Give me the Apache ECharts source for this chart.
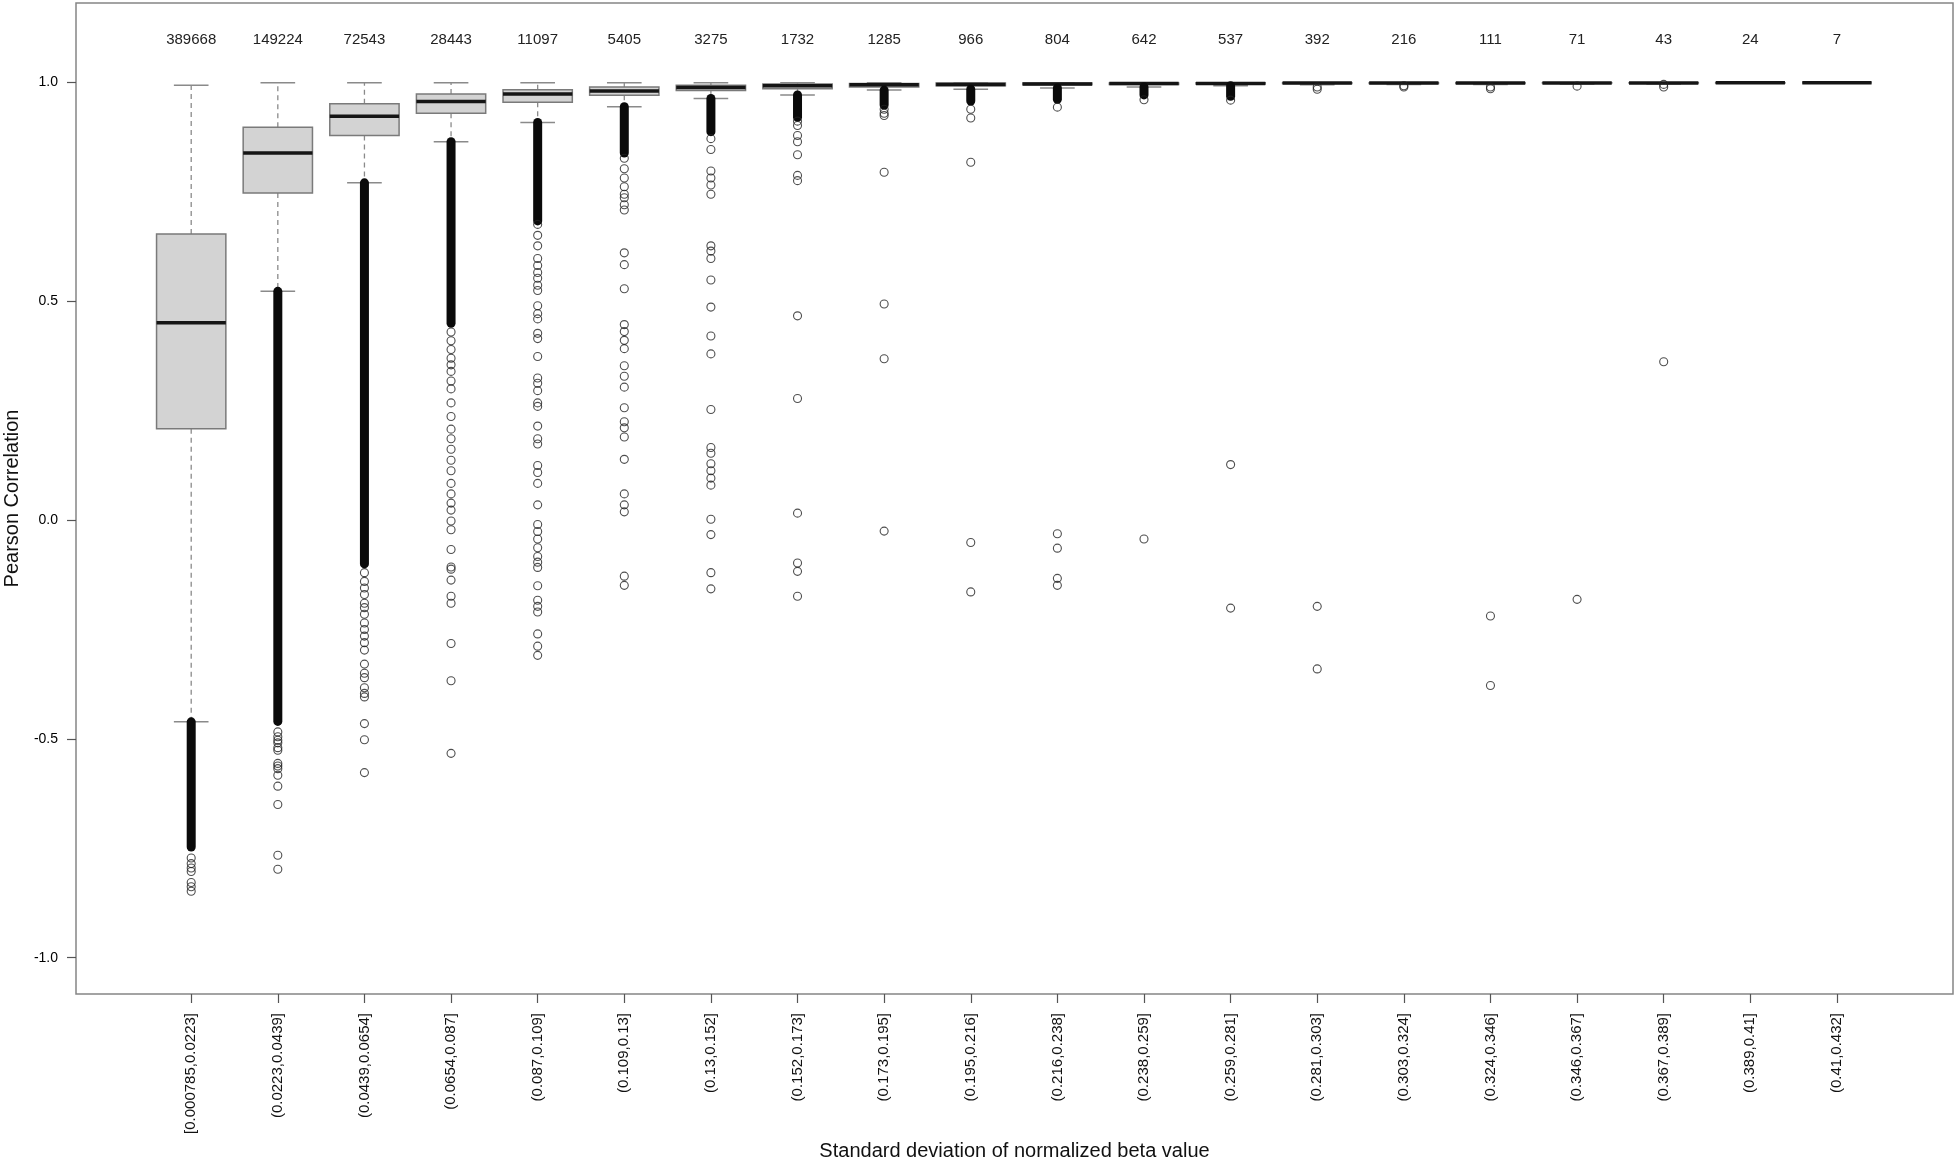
<!DOCTYPE html>
<html>
<head>
<meta charset="utf-8">
<title>Pearson Correlation by SD bin</title>
<script src="https://cdn.jsdelivr.net/npm/echarts@6/dist/echarts.min.js"></script>
<style>
html, body { margin: 0; padding: 0; background: #fff; }
#chart { width: 1960px; height: 1158px; }
</style>
</head>
<body>
<div id="chart"></div>
<script>
// bins of standard deviation
var categories = ['[0.000785,0.0223]', '(0.0223,0.0439]', '(0.0439,0.0654]', '(0.0654,0.087]', '(0.087,0.109]',
	'(0.109,0.13]', '(0.13,0.152]', '(0.152,0.173]', '(0.173,0.195]', '(0.195,0.216]',
	'(0.216,0.238]', '(0.238,0.259]', '(0.259,0.281]', '(0.281,0.303]', '(0.303,0.324]',
	'(0.324,0.346]', '(0.346,0.367]', '(0.367,0.389]', '(0.389,0.41]', '(0.41,0.432]'];
var counts = [389668, 149224, 72543, 28443, 11097, 5405, 3275, 1732, 1285, 966, 804, 642, 537, 392, 216, 111, 71, 43, 24, 7];

var whiskerLow    = [-0.461, 0.523, 0.771, 0.865, 0.909, 0.945, 0.964, 0.972, 0.983, 0.985, 0.988, 0.990, 0.993, 0.995, 0.996, 0.996, 0.997, 0.997, 0.999, 0.999];
var lowerQuartile = [0.209, 0.748, 0.879, 0.930, 0.955, 0.971, 0.982, 0.986, 0.990, 0.993, 0.995, 0.996, 0.997, 0.998, 0.998, 0.998, 0.999, 0.999, 0.999, 1.0];
var medians       = [0.451, 0.839, 0.923, 0.957, 0.974, 0.981, 0.989, 0.993, 0.995, 0.996, 0.997, 0.998, 0.998, 0.999, 0.999, 0.999, 0.999, 0.999, 1.0, 1.0];
var upperQuartile = [0.654, 0.898, 0.952, 0.974, 0.984, 0.990, 0.994, 0.997, 0.998, 0.999, 0.999, 0.999, 1.0, 1.0, 1.0, 1.0, 1.0, 1.0, 1.0, 1.0];
var whiskerHigh   = [0.994, 1.0, 1.0, 1.0, 1.0, 1.0, 1.0, 1.0, 1.0, 1.0, 1.0, 1.0, 1.0, 1.0, 1.0, 1.0, 1.0, 1.0, 1.0, 1.0];

// runs of outliers so packed that they print as a solid bar
var denseTop    = [-0.461, 0.523, 0.771, 0.865, 0.909, 0.945, 0.964, 0.972, 0.983, 0.985, 0.988, 0.990, 0.993, null, null, null, null, null, null, null];
var denseBottom = [-0.747, -0.460, -0.100, 0.450, 0.684, 0.839, 0.888, 0.921, 0.949, 0.958, 0.962, 0.972, 0.969, null, null, null, null, null, null, null];

// single outliers readable as separate circles
var outliers = [
	[-0.772, -0.785, -0.795, -0.803, -0.828, -0.838, -0.848],
	[-0.484, -0.495, -0.503, -0.509, -0.52, -0.526, -0.556, -0.562, -0.568, -0.583, -0.608, -0.650, -0.766, -0.798],
	[-0.12, -0.14, -0.155, -0.17, -0.19, -0.2, -0.215, -0.235, -0.25, -0.265, -0.28, -0.297, -0.329, -0.350, -0.360, -0.383, -0.396, -0.404, -0.465, -0.502, -0.577],
	[0.43, 0.41, 0.39, 0.37, 0.355, 0.34, 0.318, 0.300, 0.268, 0.237, 0.208, 0.186, 0.162, 0.137, 0.113, 0.084, 0.060, 0.039, 0.023, -0.002, -0.022, -0.067, -0.107, -0.112, -0.137, -0.174, -0.19, -0.282, -0.367, -0.533],
	[0.676, 0.651, 0.627, 0.598, 0.582, 0.566, 0.553, 0.537, 0.525, 0.490, 0.472, 0.460, 0.427, 0.415, 0.374, 0.325, 0.313, 0.296, 0.268, 0.260, 0.215, 0.186, 0.174, 0.125, 0.109, 0.084, 0.035, -0.010, -0.026, -0.043, -0.063, -0.083, -0.096, -0.108, -0.150, -0.183, -0.197, -0.210, -0.260, -0.288, -0.309],
	[0.827, 0.803, 0.782, 0.762, 0.745, 0.737, 0.721, 0.709, 0.611, 0.584, 0.529, 0.447, 0.431, 0.411, 0.392, 0.353, 0.329, 0.304, 0.257, 0.225, 0.211, 0.190, 0.139, 0.060, 0.035, 0.019, -0.128, -0.149],
	[0.872, 0.847, 0.798, 0.782, 0.766, 0.745, 0.627, 0.615, 0.598, 0.549, 0.487, 0.421, 0.380, 0.253, 0.166, 0.153, 0.129, 0.113, 0.096, 0.080, 0.002, -0.033, -0.120, -0.157],
	[0.912, 0.902, 0.879, 0.865, 0.835, 0.788, 0.776, 0.467, 0.278, 0.016, -0.098, -0.117, -0.174],
	[0.939, 0.930, 0.925, 0.795, 0.494, 0.369, -0.025],
	[0.939, 0.919, 0.818, -0.051, -0.164],
	[0.944, -0.031, -0.064, -0.133, -0.149],
	[0.961, -0.043],
	[0.960, 0.127, -0.201],
	[0.990, 0.985, -0.197, -0.340],
	[0.993, 0.990],
	[0.990, 0.986, -0.219, -0.378],
	[0.992, -0.181],
	[0.996, 0.990, 0.362],
	[],
	[]
];

var countLabelY = 1.097;

var boxData = [];
var denseData = [];
var pointData = [];
var countData = [];
categories.forEach(function (c, i) {
	boxData.push([i + 1, whiskerLow[i], lowerQuartile[i], medians[i], upperQuartile[i], whiskerHigh[i]]);
	if (denseTop[i] !== null) {
		denseData.push([i + 1, denseTop[i], denseBottom[i]]);
	}
	outliers[i].forEach(function (v) {
		pointData.push([i + 1, v]);
	});
	countData.push([i + 1, countLabelY, counts[i]]);
});

var tickValues = categories.map(function (c, i) { return i + 1; });
var font = "'Liberation Sans', Arial, sans-serif";

function renderBox(params, api) {
	var x = api.value(0);
	var low = api.coord([x, api.value(1)]);
	var q1 = api.coord([x, api.value(2)]);
	var med = api.coord([x, api.value(3)]);
	var q3 = api.coord([x, api.value(4)]);
	var high = api.coord([x, api.value(5)]);
	var half = api.size([0.8, 0])[0] / 2;
	var cap = api.size([0.4, 0])[0] / 2;
	var grey = '#8a8a8a';
	return {
		type: 'group',
		children: [
			{type: 'line', shape: {x1: q3[0], y1: q3[1], x2: high[0], y2: high[1]},
				style: {stroke: grey, lineWidth: 1.3, lineDash: [5, 4]}},
			{type: 'line', shape: {x1: q1[0], y1: q1[1], x2: low[0], y2: low[1]},
				style: {stroke: grey, lineWidth: 1.3, lineDash: [5, 4]}},
			{type: 'line', shape: {x1: high[0] - cap, y1: high[1], x2: high[0] + cap, y2: high[1]},
				style: {stroke: grey, lineWidth: 1.5}},
			{type: 'line', shape: {x1: low[0] - cap, y1: low[1], x2: low[0] + cap, y2: low[1]},
				style: {stroke: grey, lineWidth: 1.5}},
			{type: 'rect', shape: {x: q3[0] - half, y: q3[1], width: half * 2, height: q1[1] - q3[1]},
				style: {fill: '#d3d3d3', stroke: '#7a7a7a', lineWidth: 1.5}},
			{type: 'line', shape: {x1: med[0] - half, y1: med[1], x2: med[0] + half, y2: med[1]},
				style: {stroke: '#151515', lineWidth: 3.5}}
		]
	};
}

function renderDense(params, api) {
	var x = api.value(0);
	var top = api.coord([x, api.value(1)]);
	var bottom = api.coord([x, api.value(2)]);
	return {
		type: 'line',
		shape: {x1: top[0], y1: top[1], x2: bottom[0], y2: bottom[1]},
		style: {stroke: '#0a0a0a', lineWidth: 9, lineCap: 'round'}
	};
}

function renderCount(params, api) {
	var p = api.coord([api.value(0), api.value(1)]);
	return {
		type: 'text',
		x: p[0],
		y: p[1],
		style: {
			text: String(api.value(2)),
			fill: '#222',
			font: '15px ' + font,
			align: 'center',
			verticalAlign: 'middle'
		}
	};
}

var myChart = echarts.init(document.getElementById('chart'));
var option = {
	animation: false,
	backgroundColor: '#fff',
	grid: {
		left: 76,
		right: 7,
		top: 3,
		bottom: 164,
		show: true,
		borderColor: '#858585',
		borderWidth: 1.5,
		containLabel: false,
		outerBoundsMode: 'none'
	},
	xAxis: {
		type: 'value',
		min: -0.33,
		max: 21.34,
		name: 'Standard deviation of normalized beta value',
		nameLocation: 'middle',
		nameGap: 139,
		nameTextStyle: {fontSize: 20, color: '#111', fontFamily: font},
		axisLine: {show: false, onZero: false},
		splitLine: {show: false},
		axisTick: {show: true, length: 9, customValues: tickValues, lineStyle: {color: '#555', width: 1.2}},
		axisLabel: {
			customValues: tickValues,
			rotate: 90,
			margin: 19,
			fontSize: 15,
			color: '#111',
			fontFamily: font,
			formatter: function (v) {
				return categories[Math.round(v) - 1] || '';
			}
		}
	},
	yAxis: {
		type: 'value',
		min: -1.083,
		max: 1.182,
		name: 'Pearson Correlation',
		nameLocation: 'middle',
		nameGap: 54,
		nameTextStyle: {fontSize: 20, color: '#111', fontFamily: font},
		axisLine: {show: false, onZero: false},
		splitLine: {show: false},
		axisTick: {show: true, length: 9, customValues: [-1, -0.5, 0, 0.5, 1], lineStyle: {color: '#555', width: 1.2}},
		axisLabel: {
			customValues: [-1, -0.5, 0, 0.5, 1],
			margin: 18,
			fontSize: 14,
			color: '#000',
			fontFamily: font,
			formatter: function (v) {
				return v.toFixed(1);
			}
		}
	},
	series: [
		{
			name: 'box',
			type: 'custom',
			renderItem: renderBox,
			encode: {x: 0, y: [1, 2, 3, 4, 5]},
			data: boxData,
			silent: true,
			z: 2
		},
		{
			name: 'dense outliers',
			type: 'custom',
			renderItem: renderDense,
			encode: {x: 0, y: [1, 2]},
			data: denseData,
			silent: true,
			z: 3
		},
		{
			name: 'outliers',
			type: 'scatter',
			data: pointData,
			symbol: 'circle',
			symbolSize: 8,
			itemStyle: {color: 'rgba(255,255,255,0)', borderColor: '#222', borderWidth: 1.1},
			silent: true,
			z: 4
		},
		{
			name: 'counts',
			type: 'custom',
			renderItem: renderCount,
			encode: {x: 0, y: 1},
			data: countData,
			silent: true,
			z: 5
		}
	]
};
myChart.setOption(option);
</script>
</body>
</html>
